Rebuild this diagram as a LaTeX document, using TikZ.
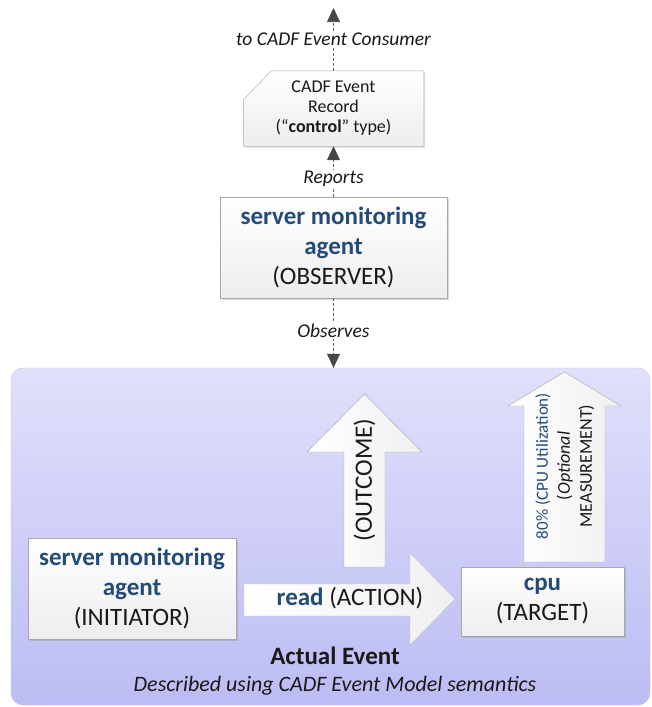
\documentclass[tikz,border=0pt]{standalone}
\usepackage{fontspec}
\setmainfont{Carlito}
\usepackage{tikz}
\usetikzlibrary{arrows.meta,shadows,calc}

\definecolor{agentblue}{RGB}{36,75,120}
\definecolor{inktext}{RGB}{25,25,25}
\definecolor{eventtop}{RGB}{224,224,251}
\definecolor{eventbot}{RGB}{188,188,244}
\definecolor{eventline}{RGB}{196,196,226}
\definecolor{boxline}{RGB}{168,168,168}
\definecolor{linkgray}{RGB}{95,95,95}

\begin{document}
\begin{tikzpicture}[x=1pt,y=-1pt,>={Triangle[length=14pt,width=13pt,color=black!72]}]
		\tikzset{
			box/.style={draw=boxline, top color=white, bottom color=black!7,
				drop shadow={shadow xshift=1.5pt, shadow yshift=-1.5pt, opacity=0.3},
				align=center, text=inktext, inner sep=0, font=\fontsize{25}{30}\selectfont},
			bigarrow/.style={draw=boxline, left color=white, right color=black!6, line join=miter},
			tag/.style={fill=white, inner sep=1pt, text=inktext, font=\fontsize{19.5}{22}\selectfont\itshape},
			link/.style={draw=linkgray, densely dashed, line width=0.6pt},
			region/.style={draw=eventline, rounded corners=12pt, top color=eventtop, bottom color=eventbot}
		}
		\useasboundingbox (0,0) rectangle (651,707);

		% actual event area
		\node[region, minimum width=639, minimum height=337] (event) at (330.5,536.5) {};

		% observer and record
		\node[box, minimum width=227, minimum height=101] (observer) at (333.5,247.5)
			{\textcolor{agentblue}{\textbf{server monitoring}}\\\textcolor{agentblue}{\textbf{agent}}\\(OBSERVER)};
		\node[inner sep=0, minimum width=180, minimum height=75] (record) at (333.5,108.5) {};
		\path[box] ($(record.north west)+(28,0)$) -- (record.north east) -- (record.south east)
			-- (record.south west) -- ($(record.north west)+(0,29)$) -- cycle;
		\node[align=center, text=inktext, font=\fontsize{18}{20}\selectfont] (recordtext) at (record)
			{CADF Event\\Record\\(“\textbf{control}” type)};
		\coordinate (consumer) at (333.5,8);

		\path[link]
			(record.north) edge[->] node[tag] {to CADF Event Consumer} (consumer)
			(observer.north) edge[->] node[tag, pos=0.35] {Reports} (record.south)
			(observer.south) edge[->] node[tag, pos=0.47] {Observes} (observer.south |- event.north);

		% initiator and target
		\node[box, minimum width=208, minimum height=101] (initiator) at (132,588.5)
			{\textcolor{agentblue}{\textbf{server monitoring}}\\\textcolor{agentblue}{\textbf{agent}}\\(INITIATOR)};
		\node[box, minimum width=163, minimum height=69] (target) at (542.5,601.5)
			{\textcolor{agentblue}{\textbf{cpu}}\\(TARGET)};

		% block arrows
		\path[bigarrow, draw=eventline!80!black!60] (244,584) -- (410,584) -- (410,553) -- (455,599)
			-- (410,645) -- (410,616) -- (244,616) -- cycle;
		\path[bigarrow] (344,567) -- (344,452) -- (307,452) -- (364.5,394) -- (422,452)
			-- (385,452) -- (385,567) -- cycle;
		\path[bigarrow] (524,562) -- (524,406) -- (508,406) -- (564.5,372) -- (621,406)
			-- (605,406) -- (605,562) -- cycle;

		\node[text=inktext, font=\fontsize{25}{30}\selectfont] (action) at (350,598)
			{\textcolor{agentblue}{\textbf{read}} (ACTION)};
		\node[rotate=90, text=inktext, font=\fontsize{25}{30}\selectfont] (outcome) at (364.5,480) {(OUTCOME)};
		\node[rotate=90, align=center, text=inktext, font=\fontsize{18}{22}\selectfont] (measurement) at (565,466)
			{{\fontsize{17}{21}\selectfont\color{agentblue}80\% (CPU Utilization)}\\(\textit{Optional}\\MEASUREMENT)};

		% captions
		\node[text=inktext, font=\fontsize{25}{30}\selectfont\bfseries] (caption) at (335,656) {Actual Event};
		\node[text=inktext, font=\fontsize{22}{26}\selectfont\itshape] (subcaption) at (335,686)
			{Described using CADF Event Model semantics};
	\end{tikzpicture}
\end{document}
